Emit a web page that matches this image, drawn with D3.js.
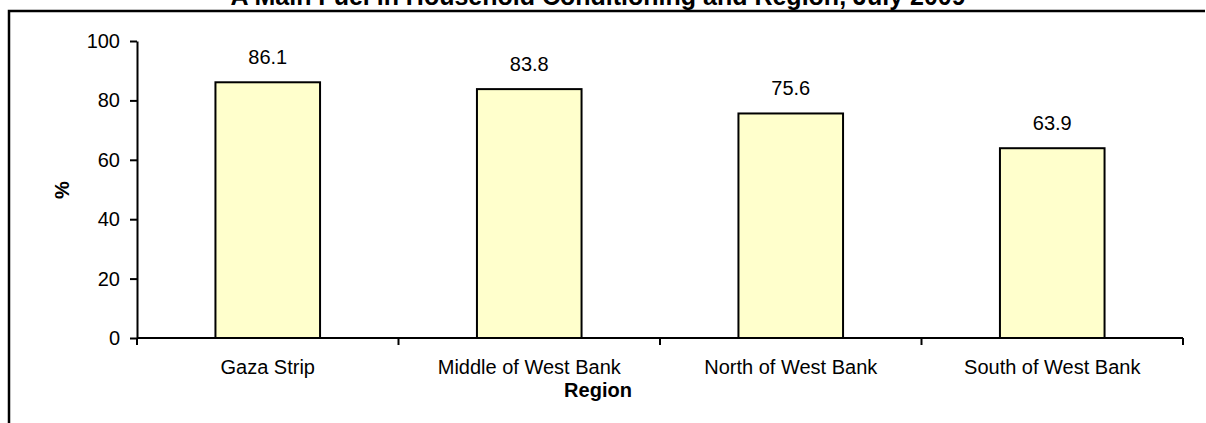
<!DOCTYPE html>
<html>
<head>
<meta charset="utf-8">
<script src="https://cdn.jsdelivr.net/npm/d3@7"></script>
<style>
  html, body { margin: 0; padding: 0; background: #fff; }
  svg { display: block; font-family: Arial, "Liberation Sans", sans-serif; }
</style>
</head>
<body>
<svg id="chart" width="1206" height="423"></svg>
<script>
// Share of households by region
const regions = ["Gaza Strip", "Middle of West Bank", "North of West Bank", "South of West Bank"];
const percents = [86.1, 83.8, 75.6, 63.9];
const yTicks = [0, 20, 40, 60, 80, 100];

const titleText = "A Main Fuel in Household Conditioning and Region,  July 2009";
const yLabel = "%";
const xLabel = "Region";

const FONT = "Arial, 'Liberation Sans', sans-serif";
const svg = d3.select("#chart");
const W = 1206, H = 423;
const plot = { left: 137, right: 1183, top: 41, bottom: 338 };

// Outer frame (top and left edges)
svg.append("path")
  .attr("d", `M9,${H} V11 H1205`)
  .attr("fill", "none")
  .attr("stroke", "#000")
  .attr("stroke-width", 2.5);

// Title, sitting above the frame
svg.append("text")
  .attr("x", 598)
  .attr("y", 5)
  .attr("text-anchor", "middle")
  .attr("font-weight", "bold")
  .attr("font-size", 25)
  .text(titleText);

const x = d3.scaleBand()
  .domain(regions)
  .range([plot.left, plot.right])
  .paddingInner(0.6)
  .paddingOuter(0.3);

const y = d3.scaleLinear()
  .domain([0, 100])
  .range([plot.bottom, plot.top]);

// Bars
svg.append("g")
  .selectAll("rect")
  .data(regions)
  .join("rect")
  .attr("x", d => x(d))
  .attr("y", (d, i) => y(percents[i]))
  .attr("width", x.bandwidth())
  .attr("height", (d, i) => y(0) - y(percents[i]))
  .attr("fill", "#FFFFCC")
  .attr("stroke", "#000")
  .attr("stroke-width", 2);

// Value labels
svg.append("g")
  .selectAll("text")
  .data(regions)
  .join("text")
  .attr("x", d => x(d) + x.bandwidth() / 2)
  .attr("y", (d, i) => y(percents[i]) - 18)
  .attr("text-anchor", "middle")
  .attr("font-size", 20)
  .text((d, i) => percents[i].toFixed(1));

// Y axis
const yAxis = svg.append("g")
  .attr("transform", `translate(${plot.left},0)`)
  .call(d3.axisLeft(y).tickValues(yTicks).tickSize(7).tickSizeOuter(0).tickPadding(10));
yAxis.select(".domain").attr("stroke-width", 2);
yAxis.selectAll(".tick line").attr("stroke-width", 2);
yAxis.selectAll(".tick text").attr("font-size", 20).attr("font-family", FONT);

// X axis: ticks at category boundaries
const boundaries = d3.range(regions.length + 1).map(i => plot.left + i * (plot.right - plot.left) / regions.length);
const xAxis = svg.append("g").attr("transform", `translate(0,${plot.bottom})`);
xAxis.append("line")
  .attr("x1", plot.left).attr("x2", plot.right)
  .attr("stroke", "#000").attr("stroke-width", 2);
xAxis.selectAll("line.tk")
  .data(boundaries)
  .join("line")
  .attr("class", "tk")
  .attr("x1", d => d).attr("x2", d => d)
  .attr("y1", 0).attr("y2", 7)
  .attr("stroke", "#000").attr("stroke-width", 2);
xAxis.selectAll("text")
  .data(regions)
  .join("text")
  .attr("x", d => x(d) + x.bandwidth() / 2)
  .attr("y", 36)
  .attr("text-anchor", "middle")
  .attr("font-size", 20)
  .text(d => d);

// Axis titles
svg.append("text")
  .attr("x", 598)
  .attr("y", 397)
  .attr("text-anchor", "middle")
  .attr("font-weight", "bold")
  .attr("font-size", 20)
  .text(xLabel);

svg.append("text")
  .attr("transform", "translate(69,190) rotate(-90)")
  .attr("text-anchor", "middle")
  .attr("font-weight", "bold")
  .attr("font-size", 20)
  .text(yLabel);
</script>
</body>
</html>
